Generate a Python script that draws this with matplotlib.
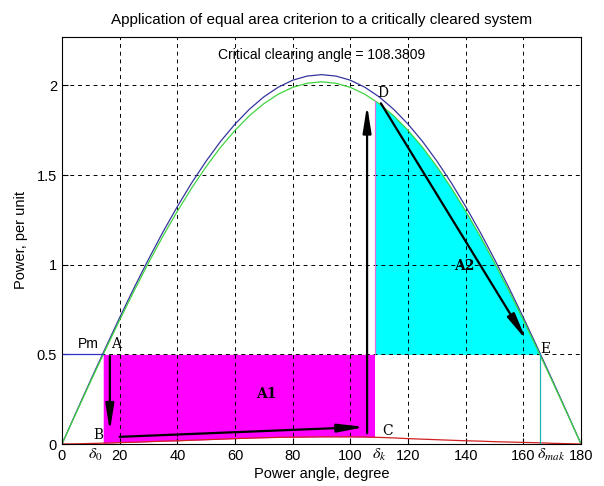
import matplotlib
matplotlib.use("Agg")
import matplotlib.pyplot as plt
import numpy as np

# ── Data ─────────────────────────────────────────────────────────────────────
angle = [0, 5, 10, 15, 20, 25, 30, 35, 40, 45, 50, 55, 60, 65, 70, 75, 80, 85, 90,
         95, 100, 105, 110, 115, 120, 125, 130, 135, 140, 145, 150, 155, 160, 165,
         170, 175, 180]
p_pre = [0, .180, .358, .533, .705, .871, 1.030, 1.182, 1.324, 1.457, 1.578, 1.688,
         1.784, 1.867, 1.936, 1.990, 2.029, 2.052, 2.060, 2.052, 2.029, 1.990, 1.936,
         1.867, 1.784, 1.688, 1.578, 1.457, 1.324, 1.182, 1.030, .871, .705, .533,
         .358, .180, 0]
p_post = [0, .176, .351, .523, .691, .854, 1.010, 1.159, 1.298, 1.428, 1.547, 1.655,
          1.749, 1.831, 1.898, 1.951, 1.989, 2.012, 2.020, 2.012, 1.989, 1.951, 1.898,
          1.831, 1.749, 1.655, 1.547, 1.428, 1.298, 1.159, 1.010, .854, .691, .523,
          .351, .176, 0]
p_fault = [0, .001, .003, .005, .008, .010, .013, .016, .018, .021, .024, .027, .030,
           .033, .035, .037, .038, .039, .040, .040, .040, .039, .037, .034, .030, .027,
           .024, .021, .018, .016, .013, .011, .009, .007, .004, .002, 0]

pm = 0.5
delta0 = 14.3
delta_cr = 108.3809
delta_max = 165.7

# ── Figure ───────────────────────────────────────────────────────────────────
plt.rcParams["font.family"] = ["Liberation Sans", "DejaVu Sans"]
plt.rcParams["mathtext.fontset"] = "stix"

fig = plt.figure(figsize=(6.04, 4.86), dpi=100)
ax = fig.add_axes([0.1026, 0.0864, 0.8594, 0.8375])

# shaded areas A1 (accelerating) and A2 (decelerating)
xa = np.linspace(delta0, delta_cr, 200)
ax.fill_between(xa, np.interp(xa, angle, p_fault), pm, color="#ff00ff", lw=0)
xb = np.linspace(delta_cr, delta_max, 200)
ax.fill_between(xb, pm, np.interp(xb, angle, p_post), color="#00ffff", lw=0)

ax.plot(angle, p_pre, color="#35359e", lw=0.9)
ax.plot(angle, p_post, color="#3fd43f", lw=0.9)
ax.plot(angle, p_fault, color="#d02020", lw=0.9)

# Pm line and boundaries
ax.plot([0, delta0], [pm, pm], color="#3030c0", lw=0.9)
ax.plot([delta_max, delta_max], [0, pm], color="#20b0b0", lw=0.9)
ax.plot([delta_cr, delta_cr], [pm, np.interp(delta_cr, angle, p_post)],
        color="#e070e0", lw=0.9)

# swing path arrows
arr = dict(arrowstyle="-|>,head_length=1.6,head_width=0.25", color="black", lw=1.6,
           shrinkA=0, shrinkB=0)
ax.annotate("", xy=(16.6, 0.07), xytext=(16.6, 0.49), arrowprops=arr)
ax.annotate("", xy=(105, 0.095), xytext=(20, 0.04), arrowprops=arr)
ax.annotate("", xy=(105.8, 1.89), xytext=(105.8, 0.06), arrowprops=arr)
ax.annotate("", xy=(161, 0.58), xytext=(110.6, 1.9), arrowprops=arr)

# point labels
serif = dict(family="DejaVu Serif", fontsize=10)
ax.text(17.0, 0.56, "A", ha="left", va="center", **serif)
ax.text(9, 0.56, "Pm", ha="center", va="center", fontsize=10)
ax.text(12.5, 0.05, "B", ha="center", va="center", **serif)
ax.text(111, 0.07, "C", ha="left", va="center", **serif)
ax.text(109.5, 1.96, "D", ha="left", va="center", **serif)
ax.text(166, 0.53, "E", ha="left", va="center", **serif)
ax.text(71, 0.28, "A1", ha="center", va="center", family="DejaVu Serif",
        fontsize=10, fontweight="bold")
ax.text(139.5, 0.99, "A2", ha="center", va="center", family="DejaVu Serif",
        fontsize=10, fontweight="bold")

ax.text(90, 2.17, f"Critical clearing angle = {delta_cr}", ha="center", va="center",
        fontsize=10)

# angle labels on x axis
for xpos, lab, align in [(11.5, r"$\delta_0$", "center"),
                         (107.6, r"$\delta_k$", "left"),
                         (164.8, r"$\delta_{mak}$", "left")]:
    ax.text(xpos, -0.083, lab, ha=align, va="baseline", fontsize=11.5,
            clip_on=False)

ax.set_xlim(0, 180)
ax.set_ylim(0, 2.27)
ax.set_xticks(np.arange(0, 181, 20))
ax.set_yticks([0, 0.5, 1, 1.5, 2])
ax.set_yticklabels(["0", "0.5", "1", "1.5", "2"])
ax.tick_params(labelsize=10.5, direction="in", length=4)
ax.grid(True, color="black", linestyle=(0, (4, 4)), lw=0.7)

ax.set_title("Application of equal area criterion to a critically cleared system",
             fontsize=11, pad=9)
ax.set_xlabel("Power angle, degree", fontsize=10.5, labelpad=3)
ax.set_ylabel("Power, per unit", fontsize=10.5, labelpad=6)

fig.savefig("out.png", dpi=100)
